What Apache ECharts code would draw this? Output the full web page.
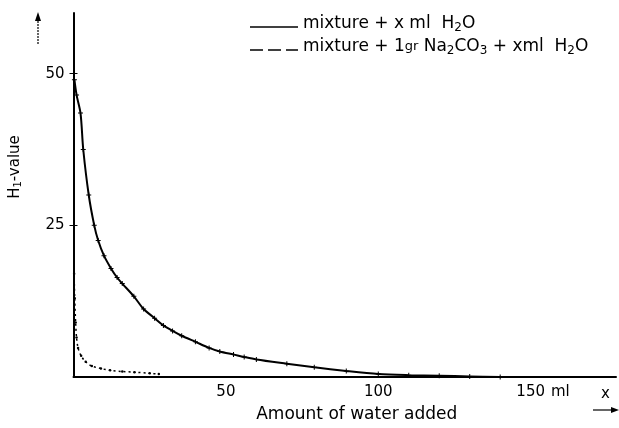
<!DOCTYPE html>
<html>
<head>
<meta charset="utf-8">
<script src="https://cdn.jsdelivr.net/npm/echarts@6/dist/echarts.min.js"></script>
<style>
html,body{margin:0;padding:0;background:#fff}
#chart{width:619px;height:428px}
</style>
</head>
<body>
<div id="chart"></div>
<script>
// mixture + x ml H2O
var waterX = [0.3, 1, 2.3, 3.2, 5, 6.8, 8.1, 10, 12.3, 14.3, 16, 19.8, 23, 26.6, 29.5, 32.5, 35.5, 40, 44.5, 48, 52.5, 56, 60, 70, 79, 89.5, 100, 110, 120, 130, 140];
var waterH = [49, 46.5, 43.5, 37.5, 30, 25, 22.5, 20, 17.9, 16.4, 15.4, 13.3, 11.2, 9.7, 8.5, 7.6, 6.8, 5.8, 4.8, 4.2, 3.7, 3.3, 2.9, 2.2, 1.6, 1.0, 0.5, 0.3, 0.2, 0.1, 0];
// mixture + 1gr Na2CO3 + x ml H2O
var sodaX = [0.2, 0.4, 0.7, 1, 1.5, 2.5, 4, 6, 9, 12, 16, 20, 25, 28];
var sodaH = [17, 13, 9, 6.5, 4.8, 3.5, 2.5, 1.8, 1.4, 1.1, 0.9, 0.8, 0.6, 0.5];

var xTicks = [50, 100, 150];
var yTicks = [25, 50];

var FONT = 'DejaVu Sans';

function pairs(xs, ys) {
	var out = [];
	for (var i = 0; i < xs.length; i++) out.push([xs[i], ys[i]]);
	return out;
}

var chart = echarts.init(document.getElementById('chart'));
var plus = 'path://M4,0h2v4h4v2h-4v4h-2v-4h-4v-2h4z';

chart.setOption({
	animation: false,
	grid: { left: 68, top: 13, right: 3, bottom: 45 },
	xAxis: {
		type: 'value', min: 0, max: 178,
		splitLine: { show: false },
		axisLine: { lineStyle: { color: '#000', width: 2 } },
		axisTick: { show: false },
		axisLabel: {
			customValues: xTicks,
			color: '#000', fontFamily: FONT, fontSize: 15, margin: 8,
			formatter: function (v) {
				return v === 150 ? '{sp|}{n|150}{u| ml}' : '{n|' + v + '}';
			},
			rich: {
				n: { fontFamily: FONT, fontSize: 15, color: '#000' },
				u: { fontFamily: FONT, fontSize: 15, color: '#000', width: 26 },
				sp: { width: 26 }
			}
		},
		name: 'Amount of water added',
		nameLocation: 'middle',
		nameGap: 29,
		nameTextStyle: { color: '#000', fontFamily: FONT, fontSize: 17, padding: [0, 0, 0, 24] }
	},
	yAxis: [{
		type: 'value', min: 0, max: 60,
		splitLine: { show: false },
		axisLine: { lineStyle: { color: '#000', width: 2 } },
		axisTick: { customValues: yTicks, length: 4, lineStyle: { color: '#000' } },
		axisLabel: { customValues: yTicks, color: '#000', fontFamily: FONT, fontSize: 15, margin: 9 },
		name: '{h|H}{s|1}{h|-value}',
		nameLocation: 'middle',
		nameRotate: 90,
		nameGap: 50,
		nameTextStyle: {
			padding: [0, 0, 0, 56],
			rich: {
				h: { fontFamily: FONT, fontSize: 15, color: '#000' },
				s: { fontFamily: FONT, fontSize: 10, color: '#000', padding: [6, 0, 0, 0] }
			}
		}
	}, {
		type: 'value', min: 0, max: 60, position: 'left',
		splitLine: { show: false },
		axisLine: { show: false },
		axisLabel: { show: false },
		axisTick: { customValues: yTicks, inside: true, length: 4, lineStyle: { color: '#000' } }
	}],
	graphic: [
		// legend
		{ type: 'line', shape: { x1: 250, y1: 27, x2: 298, y2: 27 }, style: { stroke: '#000', lineWidth: 1.5 } },
		{ type: 'text', left: 303, top: 15, style: {
			text: '{t|mixture + x ml  H}{s|2}{t|O}',
			rich: {
				t: { fontFamily: FONT, fontSize: 17, fill: '#000' },
				s: { fontFamily: FONT, fontSize: 12, fill: '#000', padding: [8, 0, 0, 0] }
			}
		} },
		{ type: 'line', shape: { x1: 250, y1: 50, x2: 298, y2: 50 }, style: { stroke: '#000', lineWidth: 1.5, lineDash: [13, 5] } },
		{ type: 'text', left: 303, top: 38, style: {
			text: '{t|mixture + 1}{g|gr}{t| Na}{s|2}{t|CO}{s|3}{t| + xml  H}{s|2}{t|O}',
			rich: {
				t: { fontFamily: FONT, fontSize: 17, fill: '#000' },
				g: { fontFamily: FONT, fontSize: 13, fill: '#000' },
				s: { fontFamily: FONT, fontSize: 12, fill: '#000', padding: [8, 0, 0, 0] }
			}
		} },
		// x-axis variable and arrow
		{ type: 'text', left: 601, top: 387, style: { text: 'x', fontFamily: FONT, fontSize: 15, fill: '#000' } },
		{ type: 'line', shape: { x1: 593, y1: 410, x2: 614, y2: 410 }, style: { stroke: '#000', lineWidth: 1.2 } },
		{ type: 'polygon', shape: { points: [[619, 410], [611, 407], [611, 413]] }, style: { fill: '#000' } },
		// y-axis arrow
		{ type: 'line', shape: { x1: 38, y1: 44, x2: 38, y2: 18 }, style: { stroke: '#000', lineWidth: 1.2, lineDash: [2, 1] } },
		{ type: 'polygon', shape: { points: [[38, 12], [35, 21], [41, 21]] }, style: { fill: '#000' } }
	],
	series: [{
		name: 'mixture + x ml H2O',
		type: 'line',
		smooth: 0.3,
		data: pairs(waterX, waterH),
		symbol: plus,
		symbolSize: 5,
		itemStyle: { color: '#000' },
		lineStyle: { color: '#000', width: 2 }
	}, {
		name: 'mixture + 1gr Na2CO3 + xml H2O',
		type: 'line',
		smooth: 0.3,
		data: pairs(sodaX, sodaH),
		symbol: 'circle',
		symbolSize: 2.5,
		itemStyle: { color: '#000' },
		lineStyle: { color: '#000', width: 1.5, type: [2, 3] }
	}]
});
</script>
</body>
</html>
